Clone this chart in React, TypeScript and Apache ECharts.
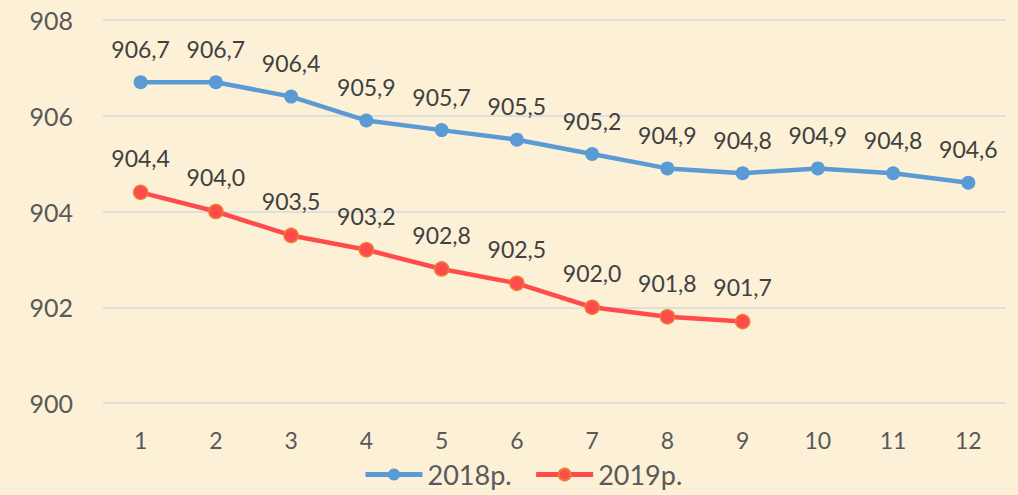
import React, { useEffect, useRef } from "react";
import * as echarts from "echarts";

const categories = ["1", "2", "3", "4", "5", "6", "7", "8", "9", "10", "11", "12"];
const series2018 = [906.7, 906.7, 906.4, 905.9, 905.7, 905.5, 905.2, 904.9, 904.8, 904.9, 904.8, 904.6];
const series2019 = [904.4, 904.0, 903.5, 903.2, 902.8, 902.5, 902.0, 901.8, 901.7];
const names = ["2018р.", "2019р."];

const fmt = (v: number) => v.toFixed(1).replace(".", ",");

export default function App() {
  const ref = useRef<HTMLDivElement>(null);
  useEffect(() => {
    if (!ref.current) return;
    const chart = echarts.init(ref.current, null, { renderer: "svg" });
    const font = "Lato, 'Open Sans', sans-serif";
    chart.setOption({
      animation: false,
      backgroundColor: "#fcf0d7",
      textStyle: { fontFamily: font },
      grid: { left: 103, right: 12, top: 20, bottom: 92, containLabel: false },
      legend: {
        bottom: 2,
        left: 358,
        itemWidth: 57,
        itemHeight: 15,
        itemGap: 22,
        lineStyle: { width: 5 },
        textStyle: { fontSize: 27, color: "#595959", fontFamily: font },
        data: names,
      },
      xAxis: {
        type: "category",
        data: categories,
        boundaryGap: true,
        axisLine: { show: false },
        axisTick: { show: false },
        axisLabel: { fontSize: 23, color: "#595959", margin: 25, fontFamily: font },
      },
      yAxis: {
        type: "value",
        min: 900,
        max: 908,
        interval: 2,
        axisLine: { show: false },
        axisTick: { show: false },
        splitLine: { lineStyle: { color: "#d6d9dc", width: 1.5 } },
        axisLabel: { fontSize: 25, color: "#595959", margin: 30, fontFamily: font },
      },
      series: [
        {
          name: names[0],
          type: "line",
          data: series2018,
          symbol: "circle",
          symbolSize: 14,
          lineStyle: { color: "#5b9bd5", width: 4.5 },
          itemStyle: { color: "#5b9bd5" },
          label: {
            show: true,
            position: "top",
            distance: 15,
            fontSize: 23,
            color: "#404040",
            fontFamily: font,
            formatter: (p: any) => fmt(p.value),
          },
        },
        {
          name: names[1],
          type: "line",
          data: series2019,
          symbol: "circle",
          symbolSize: 14,
          lineStyle: { color: "#ff4b4b", width: 4.5 },
          itemStyle: { color: "#ff4b4b", borderColor: "#ed7d31", borderWidth: 1.5 },
          label: {
            show: true,
            position: "top",
            distance: 15,
            fontSize: 23,
            color: "#404040",
            fontFamily: font,
            formatter: (p: any) => fmt(p.value),
          },
        },
      ],
    });
    return () => chart.dispose();
  }, []);
  return <div ref={ref} style={{ width: 1018, height: 495, position: "absolute", left: 0, top: 0 }} />;
}
